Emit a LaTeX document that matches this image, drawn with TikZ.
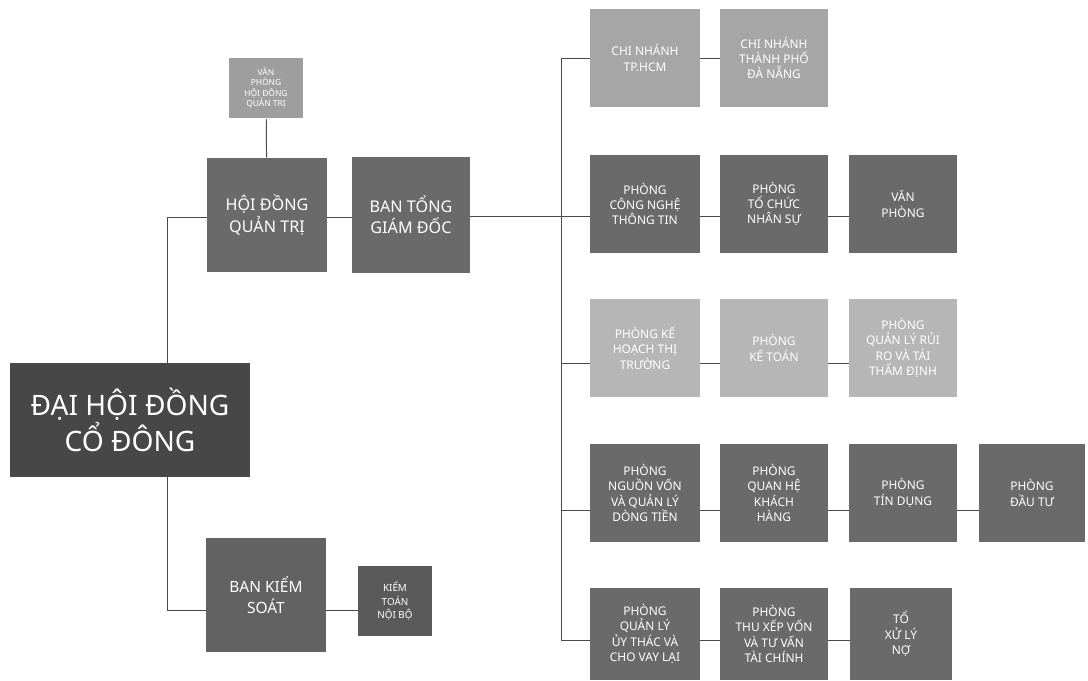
\documentclass[tikz,border=0pt]{standalone}
\usepackage{fontspec}
\setmainfont{Noto Sans}
\usepackage{tikz}
\definecolor{boxdark}{HTML}{6A6A6A}
\definecolor{boxlight}{HTML}{A6A6A6}
\definecolor{boxpale}{HTML}{B6B6B6}
\definecolor{boxtop}{HTML}{474747}
\definecolor{linegray}{HTML}{4A4A4A}

\begin{document}
\begin{tikzpicture}[x=0.025cm, y=-0.025cm,
    box/.style={fill=boxdark, text=white, align=center, inner sep=0pt,
        minimum width=2.75cm, minimum height=2.45cm,
        font=\fontsize{8.5}{10.9}\selectfont},
    light/.style={box, fill=boxlight},
    pale/.style={box, fill=boxpale},
    link/.style={draw=linegray, line width=0.7pt}]
    \useasboundingbox (0,0) rectangle (1088,680);

    % left part
    \node[box, fill=boxtop, minimum width=6cm, minimum height=2.85cm,
        font=\fontsize{20}{26}\selectfont] (dhdcd) at (130,420) {ĐẠI HỘI ĐỒNG\\CỔ ĐÔNG};
    \node[light, fill=boxlight!95!black, minimum width=1.85cm, minimum height=1.52cm,
        font=\fontsize{6}{7.4}\selectfont] (vphdqt) at (266,88) {VĂN\\PHÒNG\\HỘI ĐỒNG\\QUẢN TRỊ};
    \node[box, minimum width=3cm, minimum height=2.85cm,
        font=\fontsize{11.5}{15}\selectfont] (hdqt) at (267,215) {HỘI ĐỒNG\\QUẢN TRỊ};
    \node[box, minimum width=2.95cm, minimum height=2.88cm,
        font=\fontsize{11.5}{15}\selectfont] (btgd) at (411,215) {BAN TỔNG\\GIÁM ĐỐC};
    \node[box, fill=boxdark!92!black, minimum width=2.98cm, minimum height=2.83cm,
        font=\fontsize{11}{14.5}\selectfont] (bks) at (266,595) {BAN KIỂM\\SOÁT};
    \node[box, fill=boxdark!85!black, minimum width=1.85cm, minimum height=1.75cm,
        font=\fontsize{7}{9.5}\selectfont] (ktnb) at (395,601) {KIỂM\\TOÁN\\NỘI BỘ};

    \coordinate (jt) at (167,217);
    \coordinate (jb) at (167,610);
    \draw[link] (dhdcd.north -| jt) -- (jt) -- (hdqt.west |- jt);
    \draw[link] (dhdcd.south -| jb) -- (jb) -- (bks.west |- jb);
    \draw[link] (vphdqt) -- (hdqt);
    \draw[link] (hdqt.east |- jt) -- (btgd.west |- jt);
    \draw[link] (bks.east |- jb) -- (ktnb.west |- jb);

    % right part
    \node[light] (cn1) at (645,58) {CHI NHÁNH\\TP.HCM};
    \node[light, minimum width=2.7cm] (cn2) at (774,58) {CHI NHÁNH\\THÀNH PHỐ\\ĐÀ NẴNG};

    \node[box] (cntt) at (645,204) {PHÒNG\\CÔNG NGHỆ\\THÔNG TIN};
    \node[box, minimum width=2.7cm] (tcns) at (774,204) {PHÒNG\\TỔ CHỨC\\NHÂN SỰ};
    \node[box, minimum width=2.68cm] (vp) at (903,204) {VĂN\\PHÒNG};

    \node[pale] (khtt) at (645,348) {PHÒNG KẾ\\HOẠCH THỊ\\TRƯỜNG};
    \node[pale, minimum width=2.7cm] (kt) at (774,348) {PHÒNG\\KẾ TOÁN};
    \node[pale, minimum width=2.68cm] (qlrr) at (903,348) {PHÒNG\\QUẢN LÝ RỦI\\RO VÀ TÁI\\THẨM ĐỊNH};

    \node[box] (nv) at (645,493) {PHÒNG\\NGUỒN VỐN\\VÀ QUẢN LÝ\\DÒNG TIỀN};
    \node[box, minimum width=2.7cm] (qhkh) at (774,493) {PHÒNG\\QUAN HỆ\\KHÁCH\\HÀNG};
    \node[box, minimum width=2.68cm] (td) at (903,493) {PHÒNG\\TÍN DỤNG};
    \node[box, minimum width=2.63cm] (dt) at (1032,493) {PHÒNG\\ĐẦU TƯ};

    \node[box, minimum height=2.3cm] (ut) at (645,634) {PHÒNG\\QUẢN LÝ\\ỦY THÁC VÀ\\CHO VAY LẠI};
    \node[box, minimum width=2.7cm, minimum height=2.3cm] (tx) at (774,634) {PHÒNG\\THU XẾP VỐN\\VÀ TƯ VẤN\\TÀI CHÍNH};
    \node[box, minimum width=2.55cm, minimum height=2.3cm] (xln) at (901,634) {TỔ\\XỬ LÝ\\NỢ};

    \coordinate (s1) at (561,58);
    \coordinate (s2) at (561,216);
    \coordinate (s3) at (561,363);
    \coordinate (s4) at (561,510);
    \coordinate (s5) at (561,640);
    \draw[link] (s1) -- (s5);
    \draw[link] (btgd.east |- s2) -- (s2);
    \draw[link] (s1) -- (cn1.west |- s1);
    \draw[link] (cn1.east |- s1) -- (cn2.west |- s1);
    \draw[link] (s2) -- (cntt.west |- s2);
    \draw[link] (cntt.east |- s2) -- (tcns.west |- s2);
    \draw[link] (tcns.east |- s2) -- (vp.west |- s2);
    \draw[link] (s3) -- (khtt.west |- s3);
    \draw[link] (khtt.east |- s3) -- (kt.west |- s3);
    \draw[link] (kt.east |- s3) -- (qlrr.west |- s3);
    \draw[link] (s4) -- (nv.west |- s4);
    \draw[link] (nv.east |- s4) -- (qhkh.west |- s4);
    \draw[link] (qhkh.east |- s4) -- (td.west |- s4);
    \draw[link] (td.east |- s4) -- (dt.west |- s4);
    \draw[link] (s5) -- (ut.west |- s5);
    \draw[link] (ut.east |- s5) -- (tx.west |- s5);
    \draw[link] (tx.east |- s5) -- (xln.west |- s5);
\end{tikzpicture}
\end{document}
